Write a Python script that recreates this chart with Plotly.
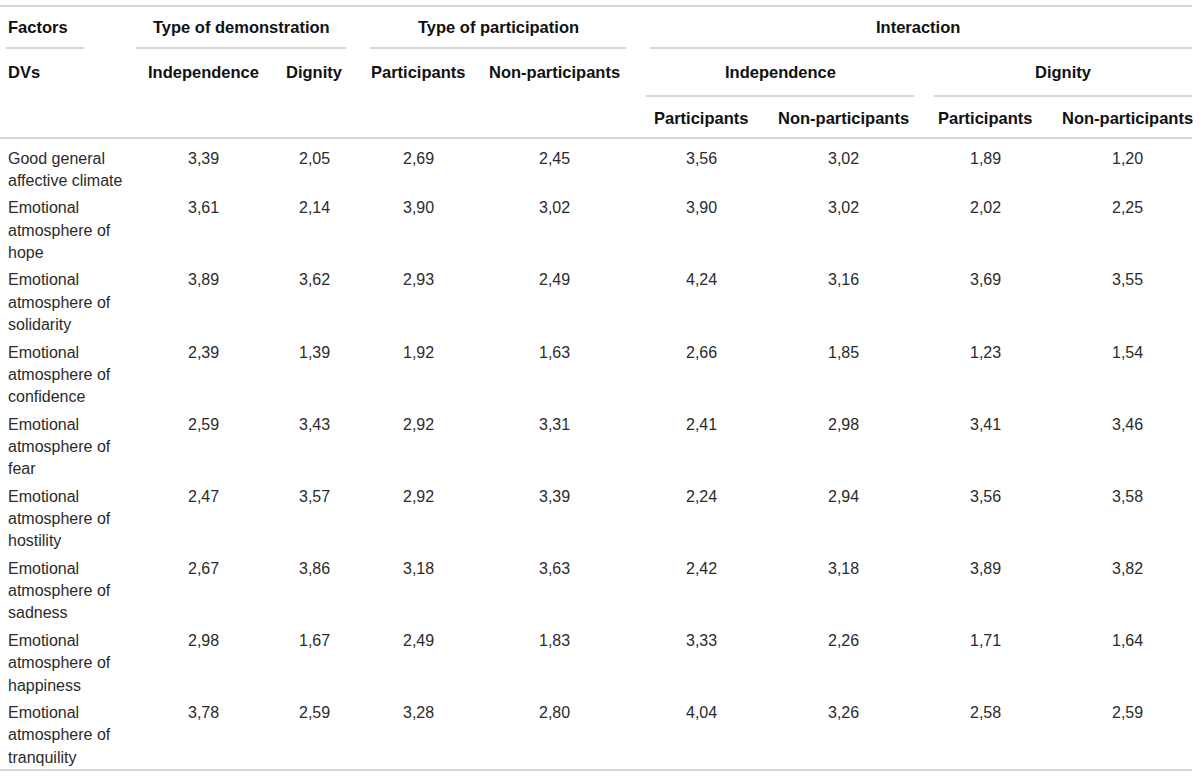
import plotly.graph_objects as go

# table content
factor_groups = ["Type of demonstration", "Type of participation", "Interaction"]
demo_cols = ["Independence", "Dignity"]
part_cols = ["Participants", "Non-participants"]
inter_groups = ["Independence", "Dignity"]
inter_cols = ["Participants", "Non-participants", "Participants", "Non-participants"]

dvs = [
    ["Good general", "affective climate"],
    ["Emotional", "atmosphere of", "hope"],
    ["Emotional", "atmosphere of", "solidarity"],
    ["Emotional", "atmosphere of", "confidence"],
    ["Emotional", "atmosphere of", "fear"],
    ["Emotional", "atmosphere of", "hostility"],
    ["Emotional", "atmosphere of", "sadness"],
    ["Emotional", "atmosphere of", "happiness"],
    ["Emotional", "atmosphere of", "tranquility"],
]

demo_independence = ["3,39", "3,61", "3,89", "2,39", "2,59", "2,47", "2,67", "2,98", "3,78"]
demo_dignity = ["2,05", "2,14", "3,62", "1,39", "3,43", "3,57", "3,86", "1,67", "2,59"]
part_participants = ["2,69", "3,90", "2,93", "1,92", "2,92", "2,92", "3,18", "2,49", "3,28"]
part_nonparticipants = ["2,45", "3,02", "2,49", "1,63", "3,31", "3,39", "3,63", "1,83", "2,80"]
ind_participants = ["3,56", "3,90", "4,24", "2,66", "2,41", "2,24", "2,42", "3,33", "4,04"]
ind_nonparticipants = ["3,02", "3,02", "3,16", "1,85", "2,98", "2,94", "3,18", "2,26", "3,26"]
dig_participants = ["1,89", "2,02", "3,69", "1,23", "3,41", "3,56", "3,89", "1,71", "2,58"]
dig_nonparticipants = ["1,20", "2,25", "3,55", "1,54", "3,46", "3,58", "3,82", "1,64", "2,59"]

value_cols = [demo_independence, demo_dignity, part_participants, part_nonparticipants,
              ind_participants, ind_nonparticipants, dig_participants, dig_nonparticipants]

# layout (pixels)
W, H = 1200, 777
col_x = [203, 314, 418, 554, 701, 843, 985, 1127]
group_x = [241, 498, 918]
inter_x = [780, 1063]
rule_color = "#c8c8c8"
text_color = "#2b2b2b"
font_name = "Liberation Sans, Arial, sans-serif"
fs_head = 16.5
fs_body = 16
line_h = 22.3
row_gap = 5.2

fig = go.Figure()
ann = []
shapes = []


def add_text(x, y, s, bold=False, anchor="center"):
    ann.append(dict(x=x, y=y, xref="x", yref="y", text=f"<b>{s}</b>" if bold else s,
                    showarrow=False, xanchor=anchor, yanchor="middle",
                    font=dict(family=font_name, size=fs_head if bold else fs_body,
                              color="#111111" if bold else text_color)))


def add_rule(x0, x1, y):
    shapes.append(dict(type="line", xref="x", yref="y", x0=x0, x1=x1, y0=y, y1=y,
                       line=dict(color=rule_color, width=1.3)))


# header
add_rule(0, 1192, 6)
add_text(6, 27, "Factors", True, "left")
for gx, g in zip(group_x, factor_groups):
    add_text(gx, 27, g, True)
add_rule(6, 84, 48)
add_rule(136, 346, 48)
add_rule(370, 626, 48)
add_rule(650, 1192, 48)

add_text(6, 72, "DVs", True, "left")
for cx, c in zip(col_x[:4], demo_cols + part_cols):
    add_text(cx, 72, c, True)
for ix, g in zip(inter_x, inter_groups):
    add_text(ix, 72, g, True)
add_rule(646, 914, 96)
add_rule(934, 1192, 96)

for cx, c in zip(col_x[4:], inter_cols):
    add_text(cx, 118, c, True)
add_rule(0, 1192, 138)

# body
y = 158
for i, label in enumerate(dvs):
    for k, part in enumerate(label):
        add_text(6, y + k * line_h, part, False, "left")
    for cx, col in zip(col_x, value_cols):
        add_text(cx, y, col[i])
    y += len(label) * line_h + row_gap
add_rule(0, 1192, 770)

fig.update_layout(
    width=W, height=H,
    margin=dict(l=0, r=0, t=0, b=0),
    paper_bgcolor="white", plot_bgcolor="white",
    xaxis=dict(range=[0, W], visible=False, fixedrange=True),
    yaxis=dict(range=[H, 0], visible=False, fixedrange=True),
    annotations=ann, shapes=shapes, showlegend=False,
)

# drop the default page margin so the table sits at the window's top-left corner
fig.write_html("out.html", config={"displayModeBar": False},
               post_script="document.body.style.margin='0';document.body.style.overflow='hidden';")
